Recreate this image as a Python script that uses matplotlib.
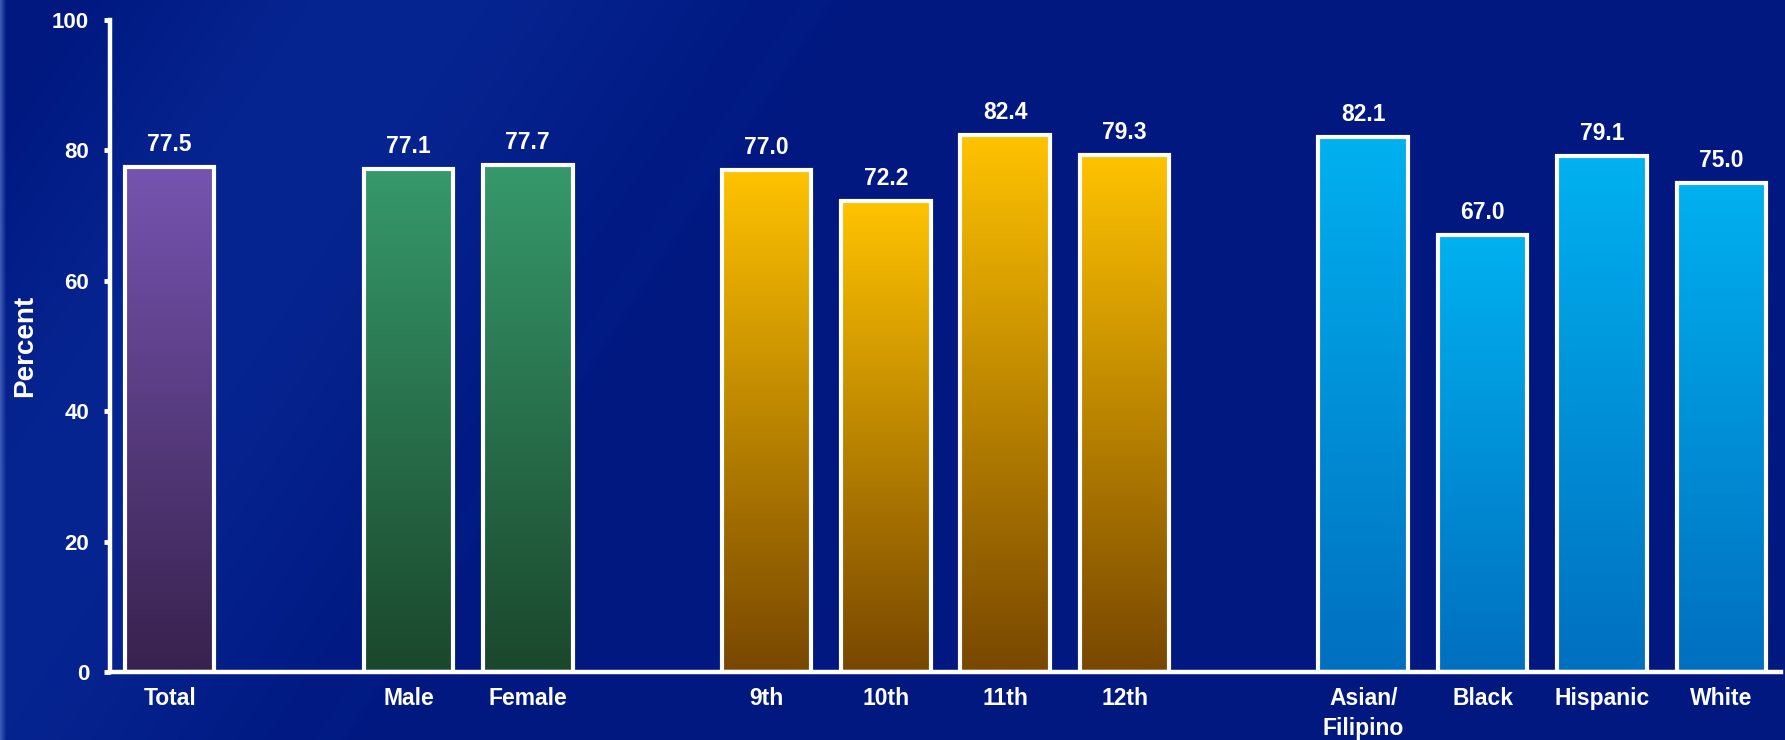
import numpy as np
import matplotlib
matplotlib.use("Agg")
import matplotlib.pyplot as plt
from matplotlib.colors import LinearSegmentedColormap

# ---- data ----
group_total = ["Total"]
group_sex = ["Male", "Female"]
group_grade = ["9th", "10th", "11th", "12th"]
group_race = ["Asian/\nFilipino", "Black", "Hispanic", "White"]

values_total = [77.5]
values_sex = [77.1, 77.7]
values_grade = [77.0, 72.2, 82.4, 79.3]
values_race = [82.1, 67.0, 79.1, 75.0]

y_ticks = [0, 20, 40, 60, 80, 100]
y_label = "Percent"

# ---- styles ----
group_colors = [
    ("#7654b0", "#38224e"),   # purple
    ("#36996b", "#1a472d"),   # green
    ("#ffc300", "#784700"),   # gold
    ("#00b1f0", "#006fbf"),   # blue
]

FONT = "Liberation Sans"
plt.rcParams["font.family"] = [FONT, "DejaVu Sans"]
plt.rcParams["font.weight"] = "bold"

W, H = 1785, 740
fig = plt.figure(figsize=(W / 100, H / 100), dpi=100)

# ---- background ----
bg_ax = fig.add_axes([0, 0, 1, 1], zorder=-10)
yy, xx = np.mgrid[0:H, 0:W]
base = np.array([0, 24, 128], float)
light = np.array([6, 36, 144], float)
d = xx + 0.66 * yy
t = np.clip((840 - d) / 350.0, 0, 1) * np.clip((d - 60) / 250.0, 0, 1)
img = base[None, None, :] * (1 - t[..., None]) + light[None, None, :] * t[..., None]
# soft diagonal streak
streak = np.exp(-((d - 820) / 25.0) ** 2) * 4
img = img + streak[..., None] * np.array([0.3, 0.6, 1.0])
# bright left edge strip
edge = np.clip((6 - xx) / 6.0, 0, 1)
img = img * (1 - edge[..., None]) + np.array([60, 90, 180])[None, None, :] * edge[..., None]
bg_ax.imshow(np.clip(img, 0, 255).astype(np.uint8), aspect="auto", extent=[0, 1, 0, 1])
bg_ax.set_axis_off()

# ---- main axes ----
left, right = 110 / W, 1781 / W
bottom, top = 1 - 672 / H, 1 - 20 / H
ax = fig.add_axes([left, bottom, right - left, top - bottom])
ax.set_facecolor("none")

groups = [group_total, group_sex, group_grade, group_race]
gvalues = [values_total, values_sex, values_grade, values_race]

positions, labels = [], []
pos = 0
bw = 0.75
for gi, (cats, vals) in enumerate(zip(groups, gvalues)):
    c_top, c_bot = group_colors[gi]
    cmap = LinearSegmentedColormap.from_list(f"g{gi}", [c_bot, c_top])
    grad = np.linspace(0, 1, 256).reshape(-1, 1)
    for cat, v in zip(cats, vals):
        bars = ax.bar(pos, v, width=bw, facecolor="none", edgecolor="white",
                      linewidth=3, zorder=3)
        rect = bars[0]
        im = ax.imshow(grad, cmap=cmap, origin="lower", aspect="auto",
                       extent=[pos - bw / 2, pos + bw / 2, 0, v], zorder=2)
        im.set_clip_path(rect)
        ax.annotate(f"{v:.1f}", xy=(pos, v), xytext=(0, 8), textcoords="offset points",
                    ha="center", va="bottom", color="white", fontsize=16.5,
                    fontweight="bold")
        positions.append(pos)
        labels.append(cat)
        pos += 1
    pos += 1

ax.set_xlim(-0.5, 13.5)
ax.set_ylim(0, 100)
ax.set_xticks(positions)
ax.set_xticklabels(labels, color="white", fontsize=16.5, fontweight="bold",
                   linespacing=1.4)
ax.tick_params(axis="x", length=0, pad=11)
ax.set_yticks(y_ticks)
ax.set_yticklabels([str(t) for t in y_ticks], color="white", fontsize=16,
                   fontweight="bold")
ax.tick_params(axis="y", length=4, width=3.5, color="white", direction="out", pad=11)

for s in ["top", "right"]:
    ax.spines[s].set_visible(False)
for s in ["left", "bottom"]:
    ax.spines[s].set_color("white")
    ax.spines[s].set_linewidth(3.2)
    ax.spines[s].set_zorder(4)

fig.text(25 / W, 1 - 346 / H, y_label, rotation=90, ha="center", va="center",
         color="white", fontsize=20, fontweight="bold")

fig.savefig("out.png", dpi=100)
